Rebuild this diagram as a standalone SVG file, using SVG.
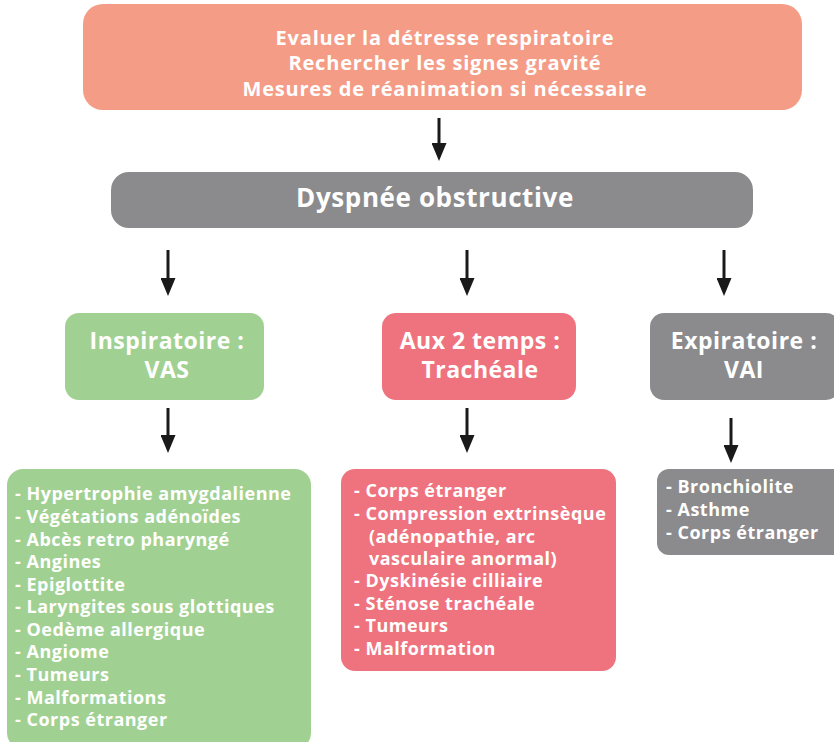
<svg xmlns="http://www.w3.org/2000/svg" width="834" height="742" viewBox="0 0 834 742">
<defs>
<style>
text{font-family:"Open Sans","Noto Sans","Liberation Sans",sans-serif;font-weight:bold;fill:#fff}
.c{text-anchor:middle}
.h{font-size:20px;letter-spacing:0.8px}
.t{font-size:26px;letter-spacing:0.6px}
.m{font-size:23px;letter-spacing:0.5px}
.l{font-size:18px;letter-spacing:0.5px}
.arr{stroke:#1a1a1a;stroke-width:3;fill:none;marker-end:url(#ah)}
</style>
<marker id="ah" markerWidth="6" markerHeight="5" refX="1" refY="2.5" orient="auto" markerUnits="strokeWidth"><path d="M0,0 L6,2.5 L0,5 z" fill="#1a1a1a"/></marker>
</defs>
<g id="top">
<rect x="83" y="4" width="719" height="106" rx="20" fill="#F59C86"/>
<text class="c h" x="445" y="45">Evaluer la détresse respiratoire</text>
<text class="c h" x="445" y="70">Rechercher les signes gravité</text>
<text class="c h" x="445" y="96">Mesures de réanimation si nécessaire</text>
</g>
<g id="dyspnee">
<rect x="111" y="172" width="642" height="56" rx="18" fill="#8B8B8E"/>
<text class="c t" x="435" y="207">Dyspnée obstructive</text>
</g>
<g id="inspi">
<rect x="65" y="313" width="199" height="87" rx="14" fill="#A1D192"/>
<text class="c m" x="167" y="349">Inspiratoire :</text>
<text class="c m" x="167" y="378">VAS</text>
</g>
<g id="deux">
<rect x="382" y="313" width="194" height="87" rx="14" fill="#EF737E"/>
<text class="c m" x="480" y="349">Aux 2 temps :</text>
<text class="c m" x="480" y="378">Trachéale</text>
</g>
<g id="expi">
<rect x="650" y="313" width="190" height="87" rx="14" fill="#8B8B8E"/>
<text class="c m" x="744" y="349">Expiratoire :</text>
<text class="c m" x="744" y="378">VAI</text>
</g>
<g id="list-vas">
<rect x="7" y="469" width="304" height="280" rx="16" fill="#A1D192"/>
<text class="l" x="15" y="500">- Hypertrophie amygdalienne</text>
<text class="l" x="15" y="523">- Végétations adénoïdes</text>
<text class="l" x="15" y="546">- Abcès retro pharyngé</text>
<text class="l" x="15" y="568">- Angines</text>
<text class="l" x="15" y="591">- Epiglottite</text>
<text class="l" x="15" y="613">- Laryngites sous glottiques</text>
<text class="l" x="15" y="636">- Oedème allergique</text>
<text class="l" x="15" y="658">- Angiome</text>
<text class="l" x="15" y="681">- Tumeurs</text>
<text class="l" x="15" y="704">- Malformations</text>
<text class="l" x="15" y="726">- Corps étranger</text>
</g>
<g id="list-trach">
<rect x="341" y="469" width="275" height="202" rx="14" fill="#EF737E"/>
<text class="l" x="354" y="497">- Corps étranger</text>
<text class="l" x="354" y="520">- Compression extrinsèque</text>
<text class="l" x="369" y="543">(adénopathie, arc</text>
<text class="l" x="369" y="565">vasculaire anormal)</text>
<text class="l" x="354" y="587">- Dyskinésie cilliaire</text>
<text class="l" x="354" y="610">- Sténose trachéale</text>
<text class="l" x="354" y="632">- Tumeurs</text>
<text class="l" x="354" y="655">- Malformation</text>
</g>
<g id="list-vai">
<rect x="657" y="469" width="190" height="86" rx="12" fill="#8B8B8E"/>
<text class="l" x="666" y="493">- Bronchiolite</text>
<text class="l" x="666" y="516">- Asthme</text>
<text class="l" x="666" y="539">- Corps étranger</text>
</g>
<g id="connectors">
<line class="arr" x1="439" y1="118" x2="439" y2="146"/>
<line class="arr" x1="168" y1="250" x2="168" y2="281"/>
<line class="arr" x1="467" y1="250" x2="467" y2="281"/>
<line class="arr" x1="724" y1="250" x2="724" y2="281"/>
<line class="arr" x1="168" y1="408" x2="168" y2="438"/>
<line class="arr" x1="467" y1="408" x2="467" y2="438"/>
<line class="arr" x1="731" y1="418" x2="731" y2="448"/>
</g>
</svg>
